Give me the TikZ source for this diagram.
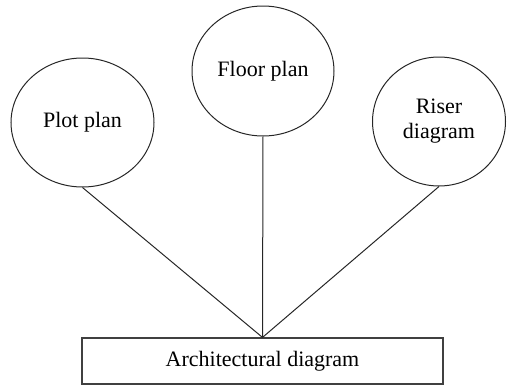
\documentclass[tikz,border=0pt]{standalone}
\usepackage{fontspec}
\setmainfont{Liberation Serif}
\usetikzlibrary{shapes.geometric}
\tikzset{
  planbubble/.style={ellipse, draw=black!85, line width=1pt, inner sep=0pt, align=center, font=\fontsize{22}{25}\selectfont},
  rootbox/.style={rectangle, draw=black!75, line width=1.2pt, inner sep=0pt, align=center, font=\fontsize{22}{25}\selectfont},
  link/.style={draw=black!85, line width=1pt}
}
\begin{document}
\begin{tikzpicture}[x=1pt, y=-1pt]
  \useasboundingbox (0,0) rectangle (507,386);
  \node[planbubble, minimum width=143pt, minimum height=129pt] (P) at (82.5,122.5) {Plot plan};
  \node[planbubble, minimum width=142pt, minimum height=130pt] (F) at (263,71) {Floor plan};
  \node[planbubble, minimum width=133pt, minimum height=129pt] (R) at (439,121.5) {Riser\\diagram};
  \node[rootbox, minimum width=361pt, minimum height=46pt] (A) at (262.5,361) {Architectural diagram};

  \draw[link] (P.south) -- (A.north);
  \draw[link] (F.south) -- (A.north);
  \draw[link] (R.south) -- (A.north);
\end{tikzpicture}
\end{document}
